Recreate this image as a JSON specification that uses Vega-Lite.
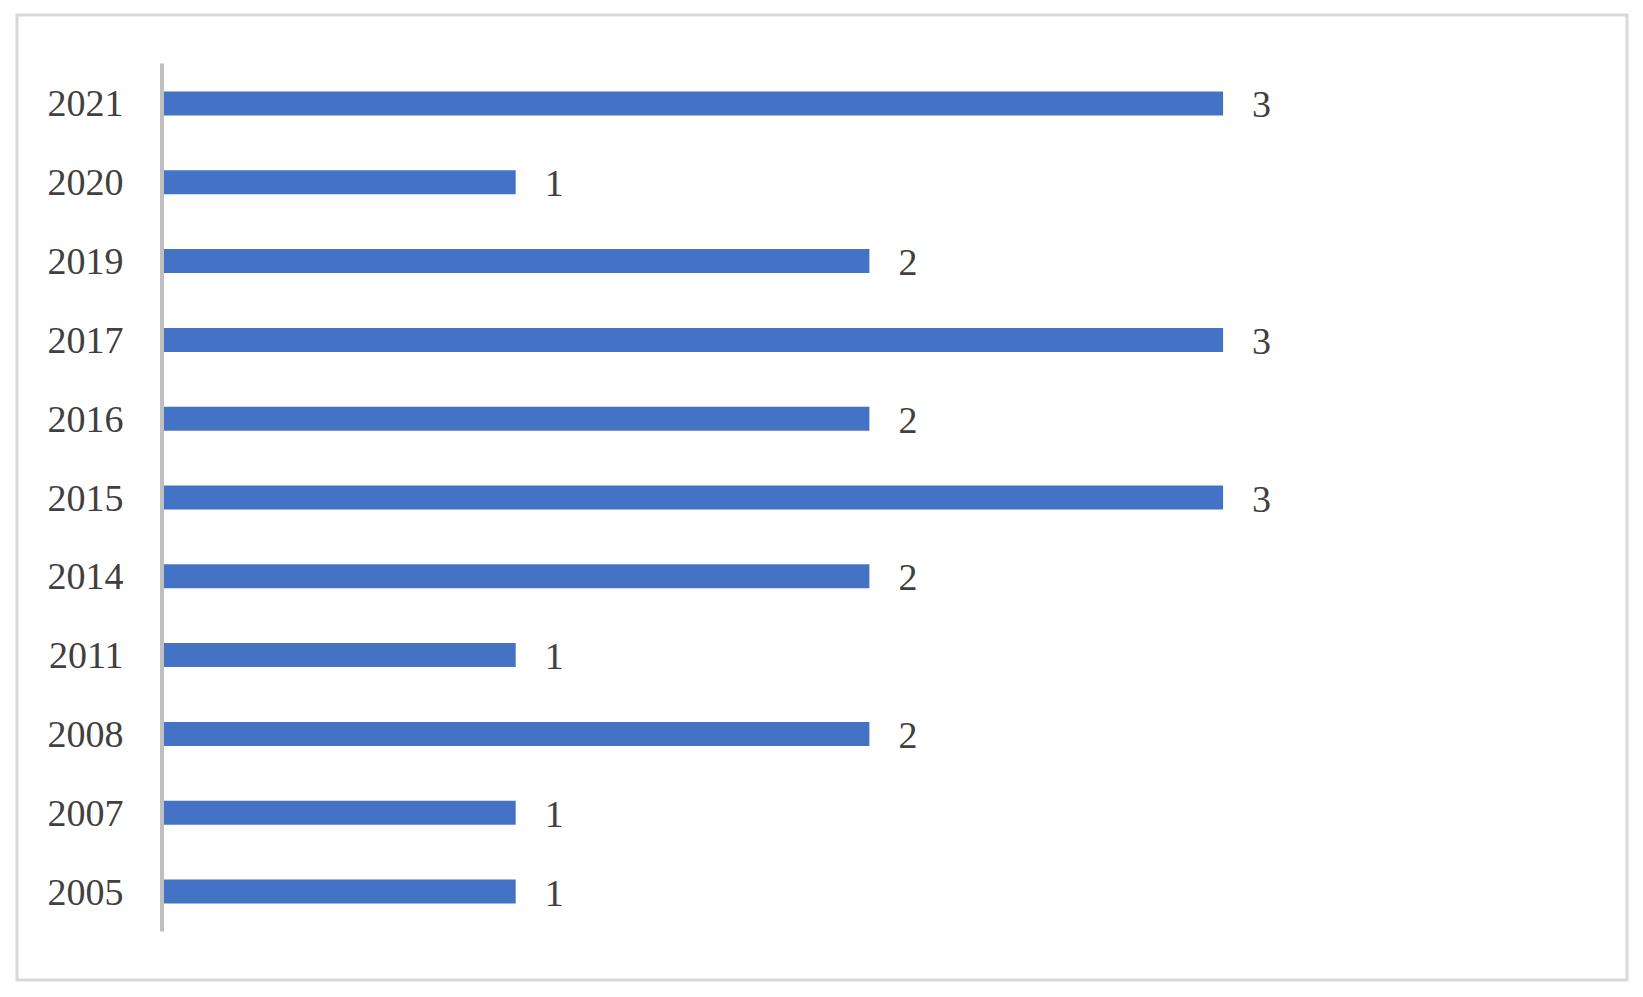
{
  "$schema": "https://vega.github.io/schema/vega-lite/v6.json",
  "width": 1610,
  "height": 965,
  "autosize": "none",
  "padding": {"left": 17, "top": 15, "right": 16, "bottom": 17},
  "background": "white",
  "config": {"view": {"stroke": "#d9d9d9", "strokeWidth": 3}},
  "data": {
    "values": [
      {"year": "2021", "count": 3},
      {"year": "2020", "count": 1},
      {"year": "2019", "count": 2},
      {"year": "2017", "count": 3},
      {"year": "2016", "count": 2},
      {"year": "2015", "count": 3},
      {"year": "2014", "count": 2},
      {"year": "2011", "count": 1},
      {"year": "2008", "count": 2},
      {"year": "2007", "count": 1},
      {"year": "2005", "count": 1}
    ]
  },
  "encoding": {
    "y": {
      "field": "year",
      "type": "nominal",
      "sort": null,
      "scale": {"paddingInner": 0.696, "paddingOuter": 0.971},
      "axis": {
        "domain": false,
        "ticks": false,
        "title": null,
        "labelFont": "Liberation Serif",
        "labelFontSize": 38,
        "labelColor": "#404040",
        "labelPadding": -106,
        "labelOffset": 2,
        "labelAlign": "right"
      }
    },
    "x": {
      "field": "count",
      "type": "quantitative",
      "scale": {"domain": [-0.41, 4.142], "nice": false, "zero": false},
      "axis": null
    }
  },
  "layer": [
    {"mark": {"type": "bar", "color": "#4472C4"}},
    {
      "mark": {"type": "text", "align": "left", "baseline": "middle", "dx": 29, "dy": 3, "font": "Liberation Serif", "fontSize": 38, "color": "#404040"},
      "encoding": {"text": {"field": "count", "type": "quantitative"}}
    },
    {
      "mark": {"type": "tick", "color": "#bfbfbf", "thickness": 4, "size": 80, "orient": "vertical", "opacity": 1},
      "encoding": {
        "x": {"datum": 0, "type": "quantitative"}
      }
    }
  ]
}
